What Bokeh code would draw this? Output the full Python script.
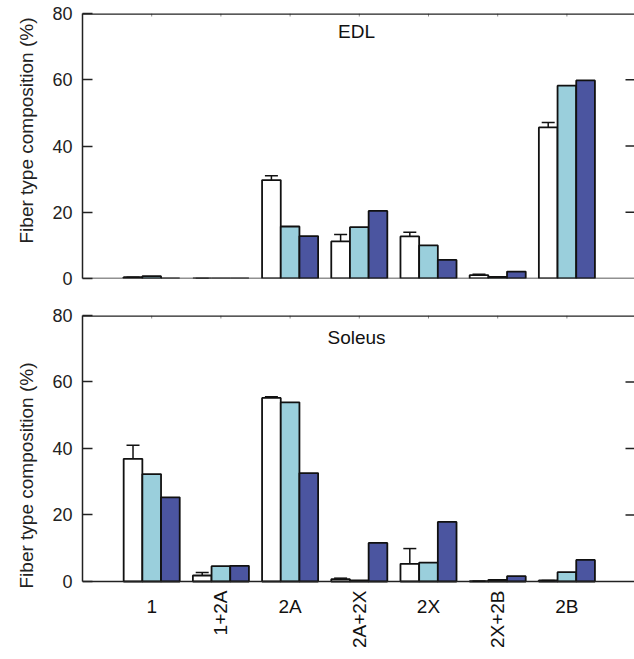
import numpy as np
from bokeh.plotting import figure
from bokeh.models import (ColumnDataSource, Range1d, LinearAxis, FixedTicker,
                          Whisker, TeeHead, LabelSet, Label, Span, Title)
from bokeh.layouts import column
from bokeh.core.properties import value
from bokeh.embed import file_html
from bokeh.resources import INLINE

# ---------------- data ----------------
categories = ["1", "1+2A", "2A", "2A+2X", "2X", "2X+2B", "2B"]
y_ticks = [0, 20, 40, 60, 80]
y_label = "Fiber type composition (%)"
panel_titles = ["EDL", "Soleus"]

edl_white = [0.4, 0.0, 29.7, 11.2, 12.7, 1.0, 45.6]
edl_white_err = [0.0, 0.0, 1.3, 2.1, 1.3, 0.3, 1.5]
edl_cyan = [0.7, 0.0, 15.7, 15.5, 10.0, 0.5, 58.2]
edl_navy = [0.0, 0.0, 12.8, 20.4, 5.6, 2.1, 59.8]

sol_white = [36.9, 1.8, 55.2, 0.7, 5.3, 0.1, 0.3]
sol_white_err = [4.1, 0.9, 0.4, 0.3, 4.6, 0.0, 0.0]
sol_cyan = [32.3, 4.6, 53.9, 0.3, 5.7, 0.5, 2.8]
sol_navy = [25.3, 4.7, 32.6, 11.6, 17.9, 1.6, 6.5]

# ---------------- style ----------------
FONT = "Liberation Sans"
COLORS = ["#ffffff", "#9acfdc", "#4b55a0"]
OFFSETS = [-0.27, 0.0, 0.27]
BAR_W = 0.27
AX_COLOR = "#222222"
X_MAX = 7.977
Y_TOP = 80

xs = np.arange(1, len(categories) + 1)


def make_panel(title, white, white_err, cyan, navy, height, top, bottom,
               y_min, title_y, ylab_offset, show_cats):
    p = figure(width=634, height=height, title=None,
               x_range=Range1d(0, X_MAX), y_range=Range1d(y_min, Y_TOP),
               output_backend="svg", toolbar_location=None,
               x_axis_location=None, y_axis_location=None,
               min_border_left=82, min_border_right=0,
               min_border_top=top, min_border_bottom=bottom)
    p.outline_line_color = None
    p.grid.visible = False
    p.background_fill_color = "white"
    p.border_fill_color = "white"

    # left axis with labels
    la = LinearAxis(ticker=FixedTicker(ticks=y_ticks), bounds=(0, Y_TOP))
    la.major_tick_in = 10
    la.major_tick_out = 0
    la.minor_tick_line_color = None
    la.axis_line_color = AX_COLOR
    la.axis_line_width = 1.5
    la.major_tick_line_color = AX_COLOR
    la.major_tick_line_width = 1.5
    la.major_label_standoff = 10
    la.major_label_text_font = FONT
    la.major_label_text_font_size = "18px"
    la.major_label_text_color = "#222222"
    p.add_layout(la, "left")

    # y-axis title (placed along the axis like the reference)
    p.add_layout(Title(text=y_label, align="left", offset=ylab_offset,
                       standoff=26, text_font=FONT, text_font_size="19px",
                       text_font_style="normal", text_color="#222222"),
                 "left")

    # frame lines at 0 and at the top
    p.add_layout(Span(location=0, dimension="width", line_color=AX_COLOR,
                      line_width=1.5))
    p.add_layout(Span(location=Y_TOP, dimension="width", line_color=AX_COLOR,
                      line_width=2.5))

    # right-side inward ticks
    px_x = X_MAX / 552.0
    rt = y_ticks[1:-1]
    p.segment(x0=[X_MAX - 9 * px_x] * len(rt), x1=[X_MAX] * len(rt),
              y0=rt, y1=rt, line_color=AX_COLOR, line_width=1.5)
    # small top ticks at category positions
    px_y = (Y_TOP - y_min) / (height - top - bottom)
    p.segment(x0=xs, x1=xs, y0=[Y_TOP] * len(xs),
              y1=[Y_TOP - 3 * px_y] * len(xs), line_color="#888888",
              line_width=1)

    # bars
    for vals, col, off in zip([white, cyan, navy], COLORS, OFFSETS):
        src = ColumnDataSource(dict(x=xs + off, top=vals))
        p.vbar(x="x", top="top", bottom=0, width=BAR_W, source=src,
               fill_color=col, line_color="#111111", line_width=1.8)

    # error bars (upper only, on the white series)
    esrc = ColumnDataSource(dict(
        x=xs + OFFSETS[0],
        lower=np.array(white),
        upper=np.array(white) + np.array(white_err)))
    p.add_layout(Whisker(source=esrc, base="x", lower="lower", upper="upper",
                         dimension="height", line_color="#111111",
                         line_width=1.5, lower_head=None,
                         upper_head=TeeHead(size=13, line_color="#111111",
                                            line_width=1.5),
                         level="overlay"))

    # panel title
    p.add_layout(Label(x=3.96, y=title_y, text=title, text_align="center",
                       text_baseline="middle", text_font=FONT,
                       text_font_size="19px", text_color="#111111"))

    if show_cats:
        hx, ht, rx, rtx = [], [], [], []
        for xv, c in zip(xs, categories):
            if "+" in c:
                rx.append(xv); rtx.append(c)
            else:
                hx.append(xv); ht.append(c)
        hsrc = ColumnDataSource(dict(x=hx, y=[-7.46] * len(hx), text=ht))
        rsrc = ColumnDataSource(dict(x=rx, y=[-2.7] * len(rx), text=rtx))
        p.add_layout(LabelSet(x="x", y="y", text="text", source=hsrc,
                              text_align="center", text_baseline="middle",
                              text_font=value(FONT),
                              text_font_size=value("19px"),
                              text_color="#111111"))
        p.add_layout(LabelSet(x="x", y="y", text="text", source=rsrc,
                              angle=np.pi / 2, text_align="right",
                              text_baseline="middle",
                              text_font=value(FONT),
                              text_font_size=value("19px"),
                              text_color="#111111"))
    return p


p1 = make_panel(panel_titles[0], edl_white, edl_white_err, edl_cyan, edl_navy,
                height=298, top=13, bottom=20, y_min=0, title_y=74.7,
                ylab_offset=35, show_cats=False)
p2 = make_panel(panel_titles[1], sol_white, sol_white_err, sol_cyan, sol_navy,
                height=357, top=17, bottom=0, y_min=-22.26, title_y=73.4,
                ylab_offset=67, show_cats=True)

layout = column(p1, p2, spacing=0)
open("out.html", "w").write(file_html(layout, INLINE))
